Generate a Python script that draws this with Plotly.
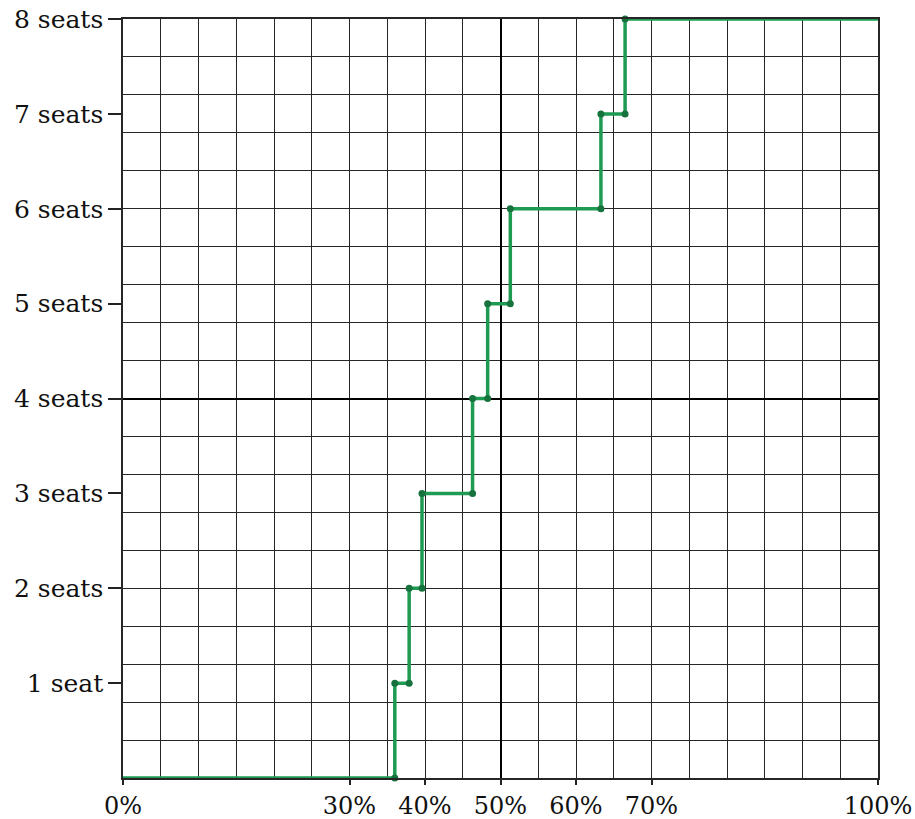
import plotly.graph_objects as go

# ---- data ----
# vote share (%) at which the seat count steps up by one
step_shares = [36.0, 37.9, 39.6, 46.3, 48.3, 51.3, 63.3, 66.5]
seat_counts = [0, 1, 2, 3, 4, 5, 6, 7, 8]
max_share = 100

x_tickvals = [0, 30, 40, 50, 60, 70, 100]
x_ticktext = ["0%", "30%", "40%", "50%", "60%", "70%", "100%"]
y_tickvals = [1, 2, 3, 4, 5, 6, 7, 8]
y_ticktext = ["1 seat", "2 seats", "3 seats", "4 seats",
              "5 seats", "6 seats", "7 seats", "8 seats"]

# ---- build traces ----
line_x = [0] + step_shares + [max_share]
line_y = seat_counts + [seat_counts[-1]]

dot_x, dot_y = [], []
for i, s in enumerate(step_shares):
    dot_x += [s, s]
    dot_y += [seat_counts[i], seat_counts[i + 1]]

GREEN = "#1e9a52"
FONT = "DejaVu Serif"

fig = go.Figure()
fig.add_trace(go.Scatter(
    x=line_x, y=line_y, mode="lines", line=dict(color=GREEN, width=3.5, shape="hv"),
    cliponaxis=False, showlegend=False, hoverinfo="skip"))
fig.add_trace(go.Scatter(
    x=dot_x, y=dot_y, mode="markers", marker=dict(color="#17733d", size=7),
    cliponaxis=False, showlegend=False, hoverinfo="skip"))
# invisible trace to anchor the grid overlay axes
fig.add_trace(go.Scatter(x=[None], y=[None], xaxis="x2", yaxis="y2",
                         showlegend=False, hoverinfo="skip"))

GRID = "#262626"
fig.update_layout(
    width=915, height=819,
    margin=dict(l=123, r=37, t=19, b=41),
    paper_bgcolor="white", plot_bgcolor="white",
    font=dict(family=FONT, size=25, color="#111"),
    xaxis=dict(range=[0, max_share], showgrid=False, zeroline=False, automargin=False,
               showline=True, mirror=True, linecolor=GRID, linewidth=1.5,
               tickvals=x_tickvals, ticktext=x_ticktext,
               ticks="outside", ticklen=5, tickwidth=2, tickcolor="#222",
               tickfont=dict(family=FONT, size=24)),
    yaxis=dict(range=[0, 8], showgrid=False, zeroline=False, automargin=False,
               showline=True, mirror=True, linecolor=GRID, linewidth=1.5,
               tickvals=y_tickvals, ticktext=y_ticktext,
               ticks="outside", ticklen=13, tickwidth=2, tickcolor="#222",
               tickfont=dict(family=FONT, size=25)),
    # grid overlay: centered so zero lines mark 50% and 4 seats
    xaxis2=dict(overlaying="x", side="top", range=[-50, 50], dtick=5, tick0=0,
                showgrid=True, gridcolor=GRID, gridwidth=1.4, automargin=False,
                zeroline=True, zerolinecolor="#000", zerolinewidth=2.2,
                showticklabels=False, ticks=""),
    yaxis2=dict(overlaying="y", side="right", range=[-4, 4], dtick=0.4, tick0=0,
                showgrid=True, gridcolor=GRID, gridwidth=1.4, automargin=False,
                zeroline=True, zerolinecolor="#000", zerolinewidth=2.2,
                showticklabels=False, ticks=""),
)

fig.write_html(
    "out.html",
    config={"displayModeBar": False},
    post_script="document.body.style.margin='0';document.body.style.padding='0';"
                "document.body.style.overflow='hidden';",
)
